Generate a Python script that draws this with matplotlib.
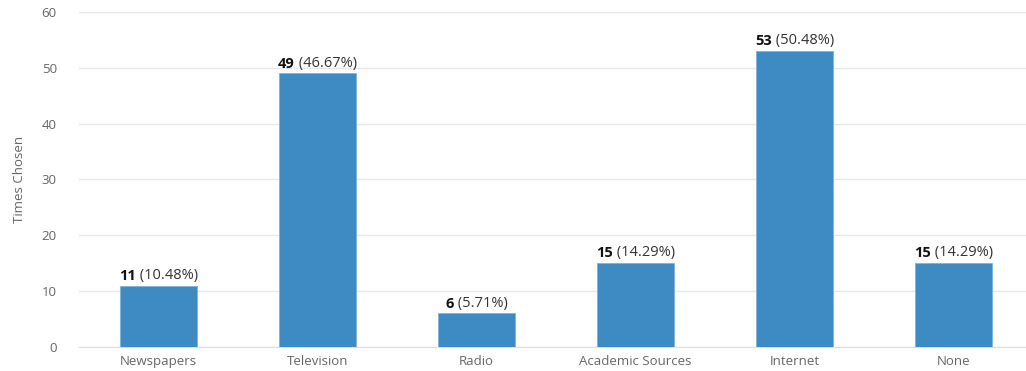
import matplotlib
matplotlib.use('Agg')
import matplotlib.pyplot as plt
from matplotlib.transforms import offset_copy

plt.rcParams['font.family'] = ['Open Sans', 'DejaVu Sans']

# survey results
categories = ['Newspapers', 'Television', 'Radio', 'Academic Sources', 'Internet', 'None']
counts = [11, 49, 6, 15, 53, 15]
percents = ['10.48%', '46.67%', '5.71%', '14.29%', '50.48%', '14.29%']
yticks = [0, 10, 20, 30, 40, 50, 60]

bar_color = '#3d8bc2'
grid_color = '#e6e6e6'
tick_color = '#666666'

fig = plt.figure(figsize=(10.26, 3.71), dpi=100)
ax = fig.add_axes([0.077, 0.0647, 0.93, 0.903])

x = list(range(len(categories)))
ax.bar(x, counts, width=0.48, color=bar_color, edgecolor='#7fb3da', linewidth=0.6, zorder=3)

ax.set_xlim(-0.5, 5.5)
ax.set_ylim(0, 60)
ax.set_yticks(yticks)
ax.set_xticks(x)
ax.set_xticklabels(categories)
ax.grid(axis='y', color=grid_color, linewidth=1, zorder=0)
ax.tick_params(axis='both', length=0, colors=tick_color, labelsize=9.5)
ax.tick_params(axis='y', pad=16)
ax.tick_params(axis='x', pad=6)
for side in ['top', 'right', 'left']:
    ax.spines[side].set_visible(False)
ax.spines['bottom'].set_color('#dddddd')
ax.set_ylabel('Times Chosen', color=tick_color, fontsize=9.5, labelpad=11)

# value labels: bold count followed by the share in brackets
renderer = fig.canvas.get_renderer()
for xi, c, p in zip(x, counts, percents):
    bold = ax.text(xi, c, str(c), fontsize=10.5, fontweight='bold', color='#111111',
                   ha='left', va='bottom')
    rest = ax.text(xi, c, ' (' + p + ')', fontsize=10.5, color='#333333',
                   ha='left', va='bottom')
    wb = bold.get_window_extent(renderer).width * 72 / fig.dpi
    wr = rest.get_window_extent(renderer).width * 72 / fig.dpi
    total = wb + wr
    bold.set_transform(offset_copy(ax.transData, fig=fig, x=-total / 2, y=2, units='points'))
    rest.set_transform(offset_copy(ax.transData, fig=fig, x=-total / 2 + wb, y=2, units='points'))

fig.savefig('out.png', dpi=100)
